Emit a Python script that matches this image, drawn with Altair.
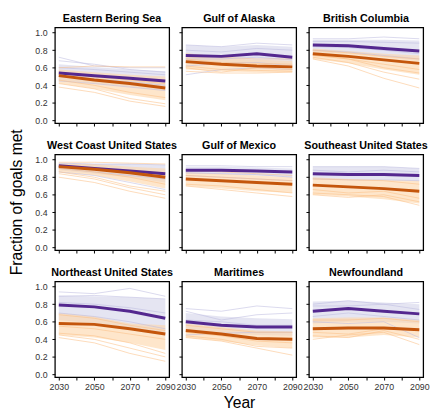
import altair as alt
import pandas as pd

YEARS = [2030, 2050, 2070, 2090]
TICK_YEARS = [2030, 2040, 2050, 2060, 2070, 2080, 2090]
Y_TICKS = [0.0, 0.2, 0.4, 0.6, 0.8, 1.0]
Y_TITLE = "Fraction of goals met"
X_TITLE = "Year"

REGIONS = [
    "Eastern Bering Sea", "Gulf of Alaska", "British Columbia",
    "West Coast United States", "Gulf of Mexico", "Southeast United States",
    "Northeast United States", "Maritimes", "Newfoundland",
]

# thick mean lines
P_MEAN = [
    [0.54, 0.51, 0.48, 0.45], [0.74, 0.73, 0.76, 0.72], [0.86, 0.85, 0.82, 0.79],
    [0.93, 0.90, 0.87, 0.84], [0.88, 0.88, 0.87, 0.86], [0.84, 0.83, 0.83, 0.82],
    [0.79, 0.77, 0.72, 0.64], [0.60, 0.56, 0.54, 0.54], [0.72, 0.75, 0.72, 0.69],
]
O_MEAN = [
    [0.51, 0.46, 0.42, 0.37], [0.67, 0.64, 0.62, 0.61], [0.76, 0.73, 0.69, 0.65],
    [0.92, 0.89, 0.85, 0.80], [0.78, 0.76, 0.74, 0.72], [0.71, 0.69, 0.67, 0.64],
    [0.58, 0.57, 0.52, 0.46], [0.50, 0.46, 0.41, 0.40], [0.52, 0.53, 0.53, 0.51],
]

# shaded bands
P_LO = [
    [0.46, 0.42, 0.38, 0.34], [0.64, 0.64, 0.66, 0.63], [0.78, 0.76, 0.72, 0.68],
    [0.88, 0.84, 0.80, 0.74], [0.84, 0.83, 0.82, 0.80], [0.78, 0.78, 0.77, 0.76],
    [0.62, 0.58, 0.52, 0.44], [0.50, 0.47, 0.45, 0.44], [0.58, 0.60, 0.60, 0.58],
]
P_HI = [
    [0.64, 0.61, 0.58, 0.56], [0.86, 0.84, 0.86, 0.84], [0.92, 0.92, 0.92, 0.91],
    [0.96, 0.95, 0.95, 0.94], [0.92, 0.92, 0.91, 0.90], [0.92, 0.92, 0.92, 0.90],
    [0.90, 0.89, 0.88, 0.86], [0.70, 0.66, 0.64, 0.63], [0.83, 0.84, 0.82, 0.80],
]
O_LO = [
    [0.42, 0.36, 0.29, 0.23], [0.58, 0.56, 0.55, 0.55], [0.70, 0.65, 0.58, 0.52],
    [0.86, 0.82, 0.75, 0.67], [0.70, 0.67, 0.64, 0.62], [0.60, 0.58, 0.55, 0.50],
    [0.45, 0.42, 0.36, 0.28], [0.42, 0.38, 0.33, 0.30], [0.42, 0.42, 0.45, 0.42],
]
O_HI = [
    [0.58, 0.55, 0.52, 0.50], [0.74, 0.71, 0.69, 0.68], [0.82, 0.79, 0.76, 0.74],
    [0.96, 0.95, 0.92, 0.90], [0.86, 0.84, 0.82, 0.80], [0.80, 0.78, 0.77, 0.76],
    [0.70, 0.66, 0.58, 0.56], [0.58, 0.54, 0.50, 0.49], [0.64, 0.65, 0.65, 0.62],
]

# thin individual runs
P_RUNS = [
    [[0.72, 0.62, 0.60, 0.60], [0.68, 0.64, 0.58, 0.55], [0.60, 0.58, 0.55, 0.52],
     [0.50, 0.47, 0.44, 0.40], [0.45, 0.42, 0.38, 0.34]],
    [[0.86, 0.84, 0.88, 0.86], [0.80, 0.78, 0.82, 0.80], [0.70, 0.70, 0.72, 0.69],
     [0.62, 0.65, 0.66, 0.62], [0.52, 0.58, 0.60, 0.58]],
    [[0.93, 0.93, 0.95, 0.93], [0.90, 0.90, 0.89, 0.88], [0.84, 0.83, 0.80, 0.76],
     [0.80, 0.78, 0.74, 0.70]],
    [[0.96, 0.95, 0.95, 0.94], [0.90, 0.86, 0.82, 0.78], [0.86, 0.82, 0.74, 0.66]],
    [[0.93, 0.93, 0.92, 0.92], [0.85, 0.84, 0.83, 0.80], [0.82, 0.80, 0.78, 0.76]],
    [[0.92, 0.92, 0.92, 0.90], [0.88, 0.86, 0.88, 0.86], [0.78, 0.77, 0.77, 0.76]],
    [[0.94, 0.92, 0.98, 0.89], [0.89, 0.90, 0.88, 0.86], [0.82, 0.80, 0.76, 0.70],
     [0.70, 0.66, 0.60, 0.52]],
    [[0.75, 0.72, 0.78, 0.75], [0.72, 0.62, 0.68, 0.70], [0.62, 0.60, 0.56, 0.56],
     [0.45, 0.47, 0.48, 0.48]],
    [[0.80, 0.84, 0.80, 0.82], [0.78, 0.78, 0.80, 0.74], [0.66, 0.70, 0.66, 0.62],
     [0.60, 0.58, 0.60, 0.42]],
]
O_RUNS = [
    [[0.60, 0.62, 0.61, 0.61], [0.55, 0.50, 0.46, 0.42], [0.46, 0.40, 0.32, 0.26],
     [0.42, 0.36, 0.25, 0.19], [0.38, 0.32, 0.22, 0.16]],
    [[0.76, 0.72, 0.70, 0.70], [0.70, 0.66, 0.65, 0.64], [0.62, 0.58, 0.57, 0.56],
     [0.56, 0.54, 0.54, 0.55], [0.60, 0.55, 0.60, 0.58]],
    [[0.80, 0.77, 0.73, 0.70], [0.74, 0.70, 0.64, 0.58], [0.72, 0.66, 0.55, 0.47],
     [0.70, 0.62, 0.48, 0.37], [0.75, 0.70, 0.60, 0.54]],
    [[0.97, 0.97, 0.96, 0.95], [0.90, 0.86, 0.80, 0.72], [0.86, 0.80, 0.70, 0.64],
     [0.84, 0.78, 0.68, 0.60], [0.80, 0.74, 0.64, 0.56]],
    [[0.88, 0.86, 0.84, 0.82], [0.72, 0.70, 0.66, 0.62], [0.70, 0.66, 0.62, 0.58],
     [0.82, 0.80, 0.78, 0.76]],
    [[0.78, 0.77, 0.76, 0.72], [0.66, 0.62, 0.64, 0.56], [0.60, 0.57, 0.60, 0.52],
     [0.62, 0.60, 0.58, 0.48]],
    [[0.68, 0.64, 0.56, 0.50], [0.55, 0.52, 0.46, 0.40], [0.47, 0.44, 0.36, 0.24],
     [0.45, 0.40, 0.30, 0.20], [0.42, 0.36, 0.24, 0.15]],
    [[0.56, 0.52, 0.48, 0.48], [0.48, 0.44, 0.38, 0.36], [0.44, 0.40, 0.32, 0.30],
     [0.42, 0.38, 0.30, 0.22]],
    [[0.62, 0.62, 0.64, 0.60], [0.48, 0.46, 0.52, 0.50], [0.44, 0.42, 0.50, 0.40],
     [0.40, 0.45, 0.48, 0.34]],
]

SCEN = ["purple", "orange"]
MEAN_COLORS = ["#54288f", "#c4560c"]
BAND_COLORS = ["#d4d3ea", "#fdd6a8"]
RUN_COLORS = ["#bdbbe0", "#fbbf84"]

FONT = "Liberation Sans"
W, H = 117, 98


def panel(i):
    row, col = divmod(i, 3)
    band_rows, mean_rows, run_rows = [], [], []
    for s, (lo, hi, mean, runs) in enumerate([
        (P_LO[i], P_HI[i], P_MEAN[i], P_RUNS[i]),
        (O_LO[i], O_HI[i], O_MEAN[i], O_RUNS[i]),
    ]):
        for k, yr in enumerate(YEARS):
            band_rows.append({"year": yr, "lo": lo[k], "hi": hi[k], "scen": SCEN[s]})
            mean_rows.append({"year": yr, "v": mean[k], "scen": SCEN[s]})
        for r, run in enumerate(runs):
            for k, yr in enumerate(YEARS):
                run_rows.append({"year": yr, "v": run[k], "scen": SCEN[s], "run": f"{SCEN[s]}{r}"})

    x_axis = alt.Axis(
        values=TICK_YEARS, format="d",
        labels=(row == 2), labelOverlap=False, labelFlush=False,
        labelExpr="datum.value % 20 == 10 ? datum.label : ''",
        title=X_TITLE if (row == 2 and col == 1) else None,
    )
    y_axis = alt.Axis(
        values=Y_TICKS, format=".1f",
        labels=(col == 0), labelOverlap=False, labelFlush=False,
        title=None,
    )
    xs = alt.Scale(domain=[2027.8, 2092.2], nice=False, zero=False)
    ys = alt.Scale(domain=[-0.03, 1.06], nice=False, zero=False)
    X = alt.X("year:Q", scale=xs, axis=x_axis)

    band = alt.Chart(pd.DataFrame(band_rows)).mark_area(opacity=0.6).encode(
        x=X,
        y=alt.Y("lo:Q", scale=ys, axis=y_axis),
        y2="hi:Q",
        color=alt.Color("scen:N", scale=alt.Scale(domain=SCEN, range=BAND_COLORS), legend=None),
    )
    runs = alt.Chart(pd.DataFrame(run_rows)).mark_line(strokeWidth=0.8, opacity=0.7).encode(
        x=X,
        y=alt.Y("v:Q", scale=ys, axis=y_axis),
        detail="run:N",
        stroke=alt.Stroke("scen:N", scale=alt.Scale(domain=SCEN, range=RUN_COLORS), legend=None),
    )
    means = alt.Chart(pd.DataFrame(mean_rows)).mark_line(strokeWidth=3).encode(
        x=X,
        y=alt.Y("v:Q", scale=ys, axis=y_axis),
        detail="scen:N",
        stroke=alt.Stroke("scen:N", scale=alt.Scale(domain=SCEN, range=MEAN_COLORS), legend=None),
    )
    header = alt.Chart(pd.DataFrame({"t": [REGIONS[i]]})).mark_text(
        align="center", baseline="alphabetic", font=FONT, fontSize=11, fontWeight="bold", color="black",
    ).encode(text="t:N", x=alt.value(W / 2), y=alt.value(-5))
    layers = [band, runs, means, header]
    if row == 1 and col == 0:
        ytitle = alt.Chart(pd.DataFrame({"t": [Y_TITLE]})).mark_text(
            angle=270, align="center", baseline="middle", font=FONT, fontSize=16, color="black",
        ).encode(text="t:N", x=alt.value(-39), y=alt.value(H / 2))
        layers.append(ytitle)
    return alt.layer(*layers).resolve_scale(color="independent", stroke="independent").properties(
        width=W, height=H,
    )


chart = alt.concat(*[panel(i) for i in range(9)], columns=3,
                   spacing={"row": 32, "column": 13}, bounds="flush").properties(
    padding={"left": 0, "right": 2, "top": 0, "bottom": 0}
).configure_view(
    stroke="black", strokeWidth=1.3
).configure_axis(
    domain=False, ticks=True, tickSize=3, tickColor="black", tickWidth=1,
    labelFont=FONT, labelFontSize=9, labelColor="#333",
    titleFont=FONT, titleFontSize=16, titleFontWeight="normal", titleColor="black",
    grid=False, labelOverlap=False,
).configure_axisY(labelPadding=5).configure_axisX(titlePadding=3, labelPadding=3)

chart.save("out.html", embed_options={"renderer": "svg", "actions": False})
